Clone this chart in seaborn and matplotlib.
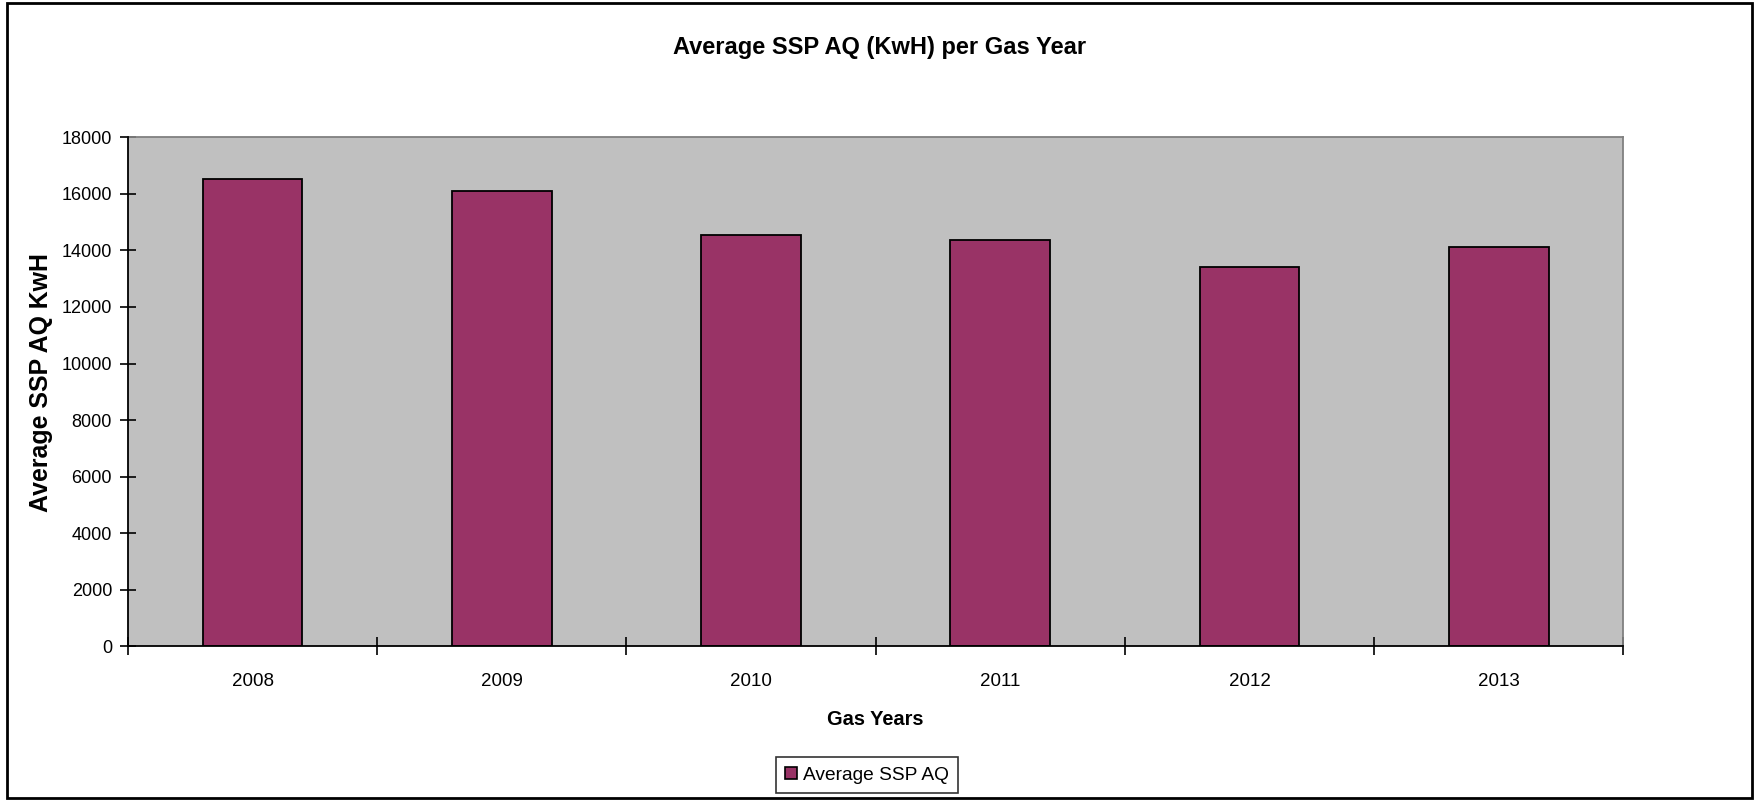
import matplotlib
matplotlib.use("Agg")
import matplotlib.pyplot as plt
import matplotlib.patches as mpatches
from matplotlib.ticker import FixedLocator, MultipleLocator
import seaborn as sns
import pandas as pd

years = ["2008", "2009", "2010", "2011", "2012", "2013"]
avg_ssp_aq = [16540, 16110, 14560, 14370, 13400, 14130]

title = "Average SSP AQ (KwH) per Gas Year"
x_label = "Gas Years"
y_label = "Average SSP AQ KwH"
series_name = "Average SSP AQ"

sns.set_style("white")
plt.rcParams["font.family"] = ["Liberation Sans", "DejaVu Sans"]
plt.rcParams["text.color"] = "black"
plt.rcParams["axes.labelcolor"] = "black"
plt.rcParams["xtick.color"] = "black"
plt.rcParams["ytick.color"] = "black"

df = pd.DataFrame({"year": years, "value": avg_ssp_aq})

fig = plt.figure(figsize=(17.59, 8.0), dpi=100)
ax = fig.add_axes([128 / 1759, 1 - 646.3 / 800, (1623.3 - 128) / 1759, (646.3 - 137.3) / 800])
ax.set_facecolor("#C0C0C0")

bar_color = "#993366"
sns.barplot(data=df, x="year", y="value", color=bar_color, width=0.4,
            edgecolor="black", linewidth=1.3, saturation=1, ax=ax)

ax.set_xlim(-0.5, len(years) - 0.5)
ax.set_ylim(0, 18000)
ax.yaxis.set_major_locator(MultipleLocator(2000))

# spines
for s in ["top", "right"]:
    ax.spines[s].set_color("#808080")
    ax.spines[s].set_linewidth(1.3)
for s in ["left", "bottom"]:
    ax.spines[s].set_color("black")
    ax.spines[s].set_linewidth(1.3)
    ax.spines[s].set_zorder(5)

# ticks
ax.tick_params(bottom=True, left=True, which="both")
ax.tick_params(axis="x", which="major", length=0, labelsize=13.5, pad=19, labelcolor="black")
ax.xaxis.set_minor_locator(FixedLocator([i - 0.5 for i in range(len(years) + 1)]))
ax.tick_params(axis="x", which="minor", direction="inout", length=13, width=1.2, color="black")
ax.tick_params(axis="y", which="major", direction="inout", length=11, width=1.2, color="black",
               labelsize=13, pad=6, labelcolor="black")
ax.set_yticks(list(range(0, 18001, 2000)))
ax.set_yticklabels([str(v) for v in range(0, 18001, 2000)])

ax.set_xlabel(x_label, fontsize=14.4, fontweight="bold")
ax.xaxis.set_label_coords(0.5, -(719.5 - 646.3) / 509, transform=ax.transAxes)
ax.xaxis.label.set_va("center")
ax.set_ylabel(y_label, fontsize=17.9, fontweight="bold")
ax.yaxis.set_label_coords((41 - 128) / 1495.3, 0.518, transform=ax.transAxes)
ax.yaxis.label.set_va("center")

fig.text(880 / 1759, 1 - 47.5 / 800, title, ha="center", va="center",
         fontsize=17, fontweight="bold")

handle = mpatches.Patch(facecolor=bar_color, edgecolor="black", linewidth=1.2, label=series_name)
leg = fig.legend(handles=[handle], loc="center", bbox_to_anchor=(867 / 1759, 1 - 775 / 800),
                 frameon=True, fontsize=13.8, handlelength=0.6, handleheight=0.6,
                 handletextpad=0.3, borderpad=0.5, fancybox=False)
leg.get_frame().set_edgecolor("black")
leg.get_frame().set_linewidth(1.2)

# outer chart border
fig.patches.append(mpatches.Rectangle((7 / 1759, 2 / 800), (1752 - 7) / 1759, (797 - 2) / 800,
                                      transform=fig.transFigure, fill=False,
                                      edgecolor="black", linewidth=2))

fig.savefig("out.png", dpi=100, facecolor="white")
